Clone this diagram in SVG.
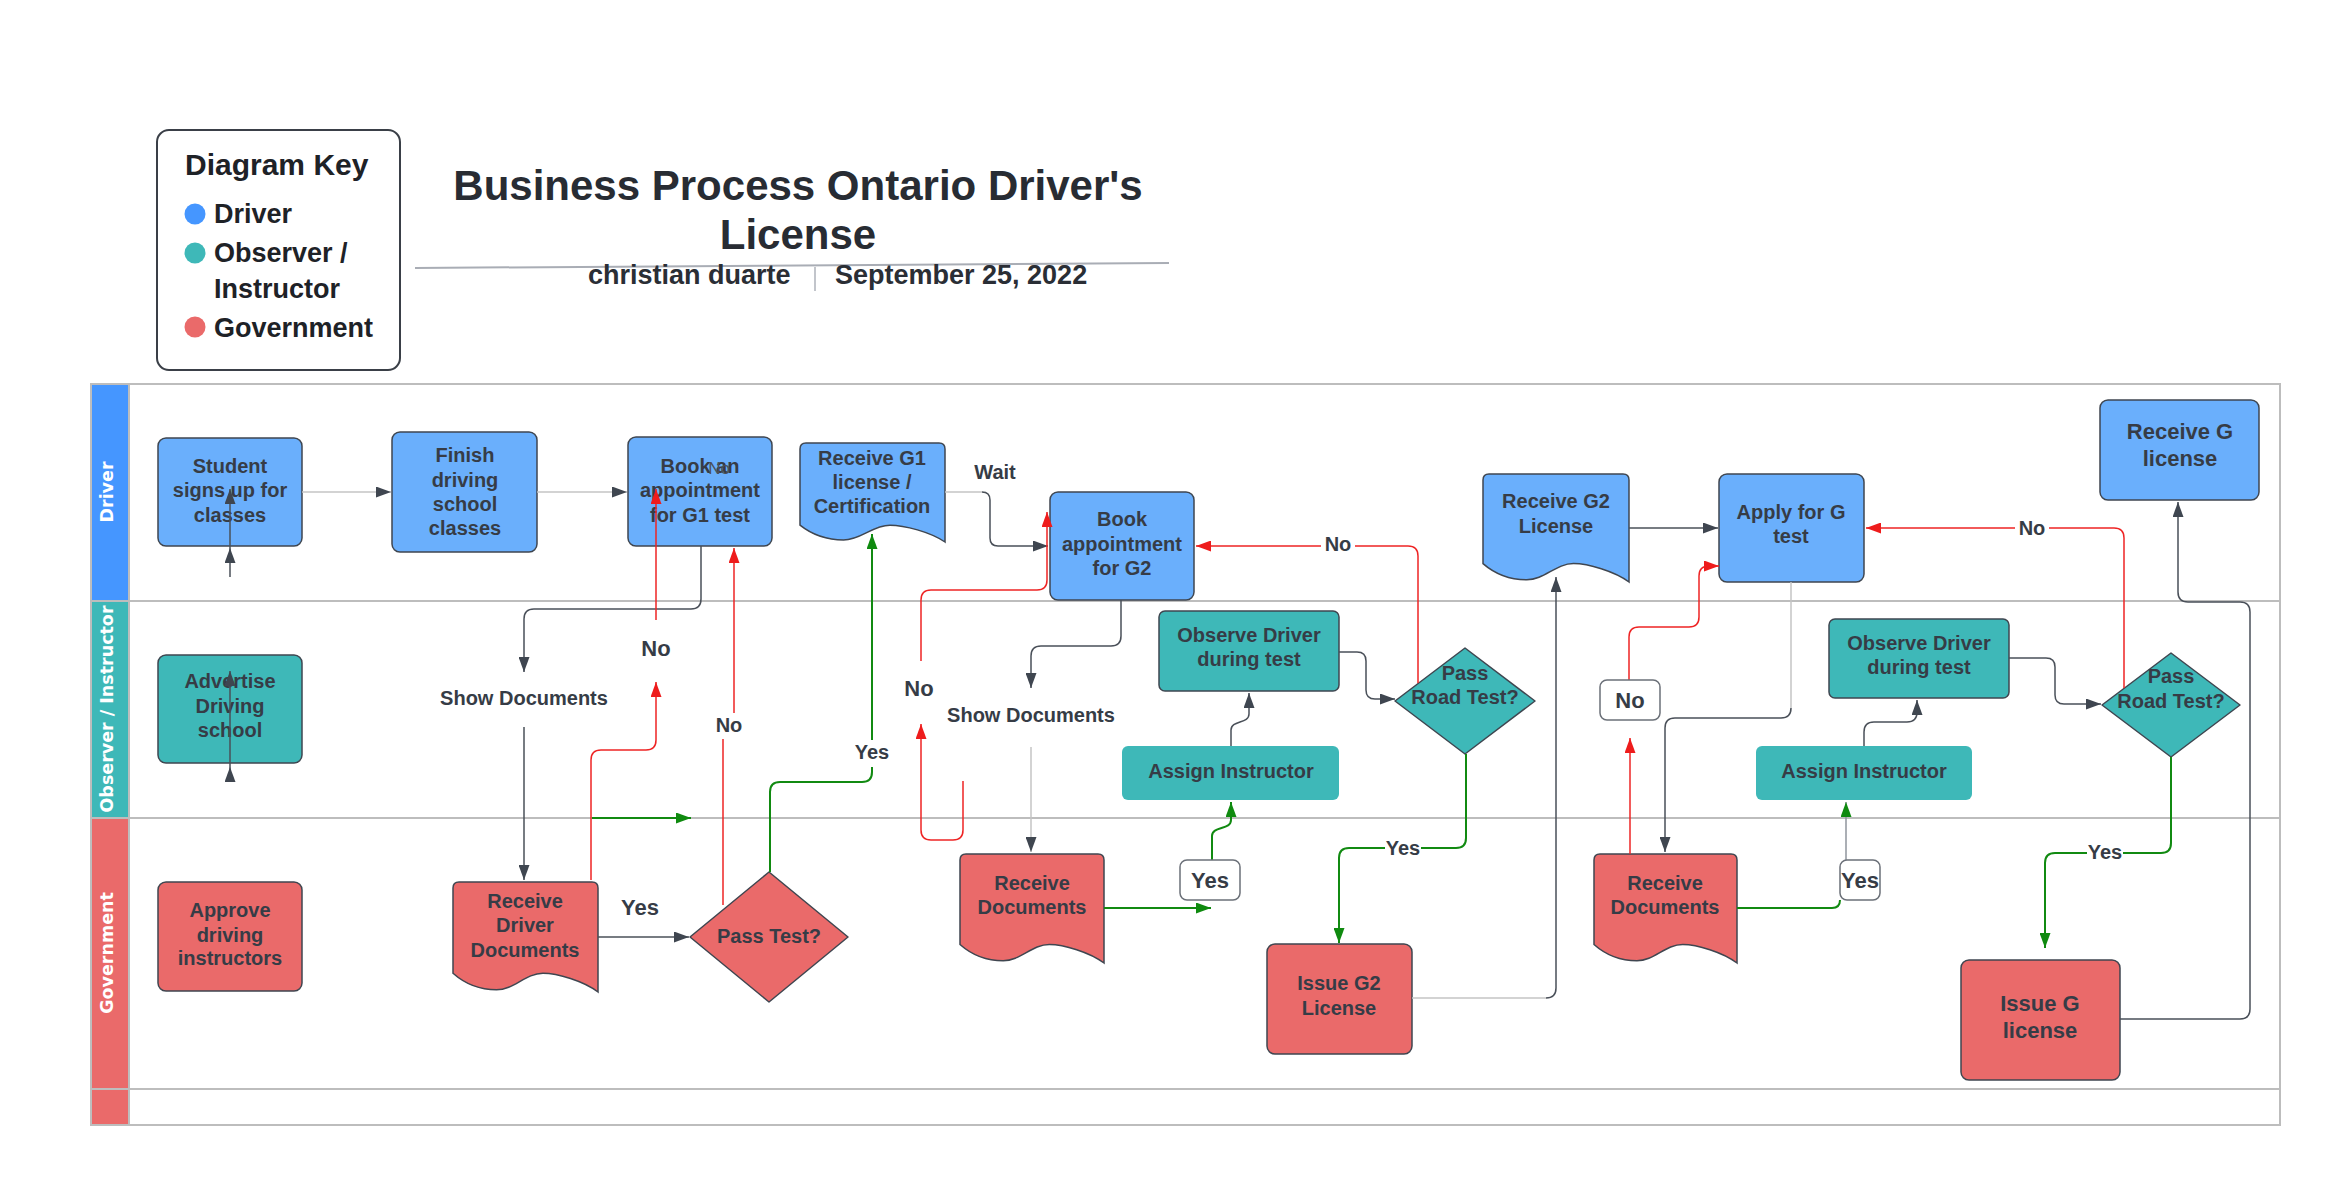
<svg xmlns="http://www.w3.org/2000/svg" width="2340" height="1180" viewBox="0 0 2340 1180">
<style>
.lane{fill:none;stroke:#bdbdbd;stroke-width:2}
.nb{fill:#6aaffc;stroke:#3f4650;stroke-width:1.5}
.nt{fill:#3eb8b8;stroke:#3f4650;stroke-width:1.5}
.nt0{fill:#3eb8b8}
.nr{fill:#ea6a6a;stroke:#3f4650;stroke-width:1.5}
.t{font-family:"Liberation Sans",Arial,sans-serif;font-weight:bold;font-size:20px;fill:#363c46;text-anchor:middle}
.t22{font-size:22px}
.lg{font-family:"Liberation Sans",Arial,sans-serif;font-weight:bold;font-size:27px;fill:#1e2227}
.ll{font-family:"DejaVu Sans",Verdana,sans-serif;font-weight:bold;font-size:17.5px;fill:#ffffff;text-anchor:middle}
.c{fill:none;stroke:#4a5059;stroke-width:1.5}
.cl{fill:none;stroke:#c4c4c4;stroke-width:1.5}
.cr{fill:none;stroke:#ee2424;stroke-width:1.5}
.cg{fill:none;stroke:#118a11;stroke-width:2}
.lb{fill:#ffffff;stroke:#6b7078;stroke-width:1.5}
</style>
<defs>
<marker id="ad" viewBox="0 0 15 11" refX="15" refY="5.5" markerWidth="15" markerHeight="11" markerUnits="userSpaceOnUse" orient="auto"><path d="M0,0 L15,5.5 L0,11 Z" fill="#3f4650"/></marker>
<marker id="ar" viewBox="0 0 15 11" refX="15" refY="5.5" markerWidth="15" markerHeight="11" markerUnits="userSpaceOnUse" orient="auto"><path d="M0,0 L15,5.5 L0,11 Z" fill="#ee1c1c"/></marker>
<marker id="ag" viewBox="0 0 15 11" refX="15" refY="5.5" markerWidth="15" markerHeight="11" markerUnits="userSpaceOnUse" orient="auto"><path d="M0,0 L15,5.5 L0,11 Z" fill="#0f8a0f"/></marker>
</defs>
<rect width="2340" height="1180" fill="#ffffff"/>

<g id="legend">
<rect x="157" y="130" width="243" height="240" rx="12" fill="#ffffff" stroke="#3a3f47" stroke-width="2"/>
<text x="185" y="175" class="lg" style="font-size:30px">Diagram Key</text>
<circle cx="195" cy="214" r="10.5" fill="#4596ff"/>
<circle cx="195" cy="253" r="10.5" fill="#3eb8b8"/>
<circle cx="195" cy="327" r="10.5" fill="#ea6a6a"/>
<text x="214" y="223" class="lg">Driver</text>
<text x="214" y="262" class="lg">Observer /</text>
<text x="214" y="298" class="lg">Instructor</text>
<text x="214" y="337" class="lg">Government</text>
</g>

<g id="title">
<text x="798" y="200" class="t" style="font-size:42px;fill:#282c33">Business Process Ontario Driver's</text>
<text x="798" y="249" class="t" style="font-size:42px;fill:#282c33">License</text>
<path d="M415 268 L1169 263" stroke="#a9adb5" stroke-width="2" fill="none"/>
<text x="588" y="284" class="t" style="font-size:27px;text-anchor:start;fill:#2a2e35">christian duarte</text>
<path d="M815 267 V291" stroke="#c2c5cb" stroke-width="2"/>
<text x="835" y="284" class="t" style="font-size:27px;text-anchor:start;fill:#2a2e35">September 25, 2022</text>
</g>

<g id="swimlanes">
<rect x="91" y="384" width="2189" height="741" fill="#ffffff"/>
<rect x="91" y="384" width="38" height="217" fill="#4596ff"/>
<rect x="91" y="601" width="38" height="217" fill="#3eb8b8"/>
<rect x="91" y="818" width="38" height="271" fill="#ea6a6a"/>
<rect x="91" y="1089" width="38" height="36" fill="#ea6a6a"/>
<rect x="91" y="384" width="2189" height="741" class="lane"/>
<path d="M91 601 H2280 M91 818 H2280 M91 1089 H2280 M129 384 V1125" class="lane"/>
<text transform="translate(113,492) rotate(-90)" class="ll">Driver</text>
<text transform="translate(113,709) rotate(-90)" class="ll">Observer / Instructor</text>
<text transform="translate(113,953) rotate(-90)" class="ll">Government</text>
</g>

<g id="student-signs-up">
<rect x="158" y="438" width="144" height="108" rx="8" class="nb"/>
<text class="t" x="230" y="473">Student</text>
<text class="t" x="230" y="497">signs up for</text>
<text class="t" x="230" y="522">classes</text>
</g>
<g id="finish-classes">
<rect x="392" y="432" width="145" height="120" rx="8" class="nb"/>
<text class="t" x="465" y="462">Finish</text>
<text class="t" x="465" y="487">driving</text>
<text class="t" x="465" y="511">school</text>
<text class="t" x="465" y="535">classes</text>
</g>
<g id="book-g1">
<rect x="628" y="437" width="144" height="109" rx="8" class="nb"/>
<text class="t" x="700" y="473">Book an</text>
<text class="t" x="700" y="497">appointment</text>
<text class="t" x="700" y="522">for G1 test</text>
</g>
<g id="receive-g1">
<path d="M800 449 Q800 443 806 443 H939 Q945 443 945 449 V542 C930.5 532.1 904.4 525.2 889.9 525.2 C872.5 525.2 860.9 540 843.5 540 C821.75 540 808.7 532.1 800 525.2 Z" class="nb"/>
<text class="t" x="872" y="465">Receive G1</text>
<text class="t" x="872" y="489">license /</text>
<text class="t" x="872" y="513">Certification</text>
</g>
<g id="book-g2">
<rect x="1050" y="492" width="144" height="108" rx="8" class="nb"/>
<text class="t" x="1122" y="526">Book</text>
<text class="t" x="1122" y="551">appointment</text>
<text class="t" x="1122" y="575">for G2</text>
</g>
<g id="receive-g2">
<path d="M1483 480 Q1483 474 1489 474 H1623 Q1629 474 1629 480 V582 C1614.4 571.2 1588.1 563.6 1573.5 563.6 C1556 563.6 1544.3 579.8 1526.8 579.8 C1504.9 579.8 1491.8 571.2 1483 563.6 Z" class="nb"/>
<text class="t" x="1556" y="508">Receive G2</text>
<text class="t" x="1556" y="533">License</text>
</g>
<g id="apply-g">
<rect x="1719" y="474" width="145" height="108" rx="8" class="nb"/>
<text class="t" x="1791" y="519">Apply for G</text>
<text class="t" x="1791" y="543">test</text>
</g>
<g id="receive-g">
<rect x="2100" y="400" width="159" height="100" rx="8" class="nb"/>
<text class="t t22" x="2180" y="439">Receive G</text>
<text class="t t22" x="2180" y="466">license</text>
</g>

<g id="advertise">
<rect x="158" y="655" width="144" height="108" rx="8" class="nt"/>
<text class="t" x="230" y="688">Advertise</text>
<text class="t" x="230" y="713">Driving</text>
<text class="t" x="230" y="737">school</text>
</g>
<g id="observe-1">
<rect x="1159" y="611" width="180" height="80" rx="6" class="nt"/>
<text class="t" x="1249" y="642">Observe Driver</text>
<text class="t" x="1249" y="666">during test</text>
</g>
<g id="assign-1">
<rect x="1122" y="746" width="217" height="54" rx="6" class="nt0"/>
<text class="t" x="1231" y="778">Assign Instructor</text>
</g>
<g id="pass-road-1">
<path d="M1395 701 L1465 648 L1535 701 L1465 754 Z" class="nt" stroke-linejoin="round"/>
<text class="t" x="1465" y="680">Pass</text>
<text class="t" x="1465" y="704">Road Test?</text>
</g>
<g id="observe-2">
<rect x="1829" y="619" width="180" height="79" rx="6" class="nt"/>
<text class="t" x="1919" y="650">Observe Driver</text>
<text class="t" x="1919" y="674">during test</text>
</g>
<g id="assign-2">
<rect x="1756" y="746" width="216" height="54" rx="6" class="nt0"/>
<text class="t" x="1864" y="778">Assign Instructor</text>
</g>
<g id="pass-road-2">
<path d="M2102 705 L2171 653 L2240 705 L2171 757 Z" class="nt" stroke-linejoin="round"/>
<text class="t" x="2171" y="683">Pass</text>
<text class="t" x="2171" y="708">Road Test?</text>
</g>

<g id="approve">
<rect x="158" y="882" width="144" height="109" rx="8" class="nr"/>
<text class="t" x="230" y="917">Approve</text>
<text class="t" x="230" y="942">driving</text>
<text class="t" x="230" y="965">instructors</text>
</g>
<g id="receive-driver-docs">
<path d="M453 888 Q453 882 459 882 H592 Q598 882 598 888 V992 C583.5 981 557.4 973.3 542.9 973.3 C525.5 973.3 513.9 989.8 496.5 989.8 C474.75 989.8 461.7 981 453 973.3 Z" class="nr"/>
<text class="t" x="525" y="908">Receive</text>
<text class="t" x="525" y="932">Driver</text>
<text class="t" x="525" y="957">Documents</text>
</g>
<g id="pass-test">
<path d="M690 937 L769 872 L848 937 L769 1002 Z" class="nr" stroke-linejoin="round"/>
<text class="t" x="769" y="943">Pass Test?</text>
</g>
<g id="receive-docs-1">
<path d="M960 860 Q960 854 966 854 H1098 Q1104 854 1104 860 V963 C1089.6 952.1 1063.7 944.5 1049.3 944.5 C1032 944.5 1020.5 960.8 1003.2 960.8 C981.6 960.8 968.6 952.1 960 944.5 Z" class="nr"/>
<text class="t" x="1032" y="890">Receive</text>
<text class="t" x="1032" y="914">Documents</text>
</g>
<g id="issue-g2">
<rect x="1267" y="944" width="145" height="110" rx="8" class="nr"/>
<text class="t" x="1339" y="990">Issue G2</text>
<text class="t" x="1339" y="1015">License</text>
</g>
<g id="receive-docs-2">
<path d="M1594 860 Q1594 854 1600 854 H1731 Q1737 854 1737 860 V963 C1722.7 952.1 1697 944.5 1682.7 944.5 C1665.5 944.5 1654.1 960.8 1636.9 960.8 C1615.5 960.8 1602.6 952.1 1594 944.5 Z" class="nr"/>
<text class="t" x="1665" y="890">Receive</text>
<text class="t" x="1665" y="914">Documents</text>
</g>
<g id="issue-g">
<rect x="1961" y="960" width="159" height="120" rx="8" class="nr"/>
<text class="t t22" x="2040" y="1011">Issue G</text>
<text class="t t22" x="2040" y="1038">license</text>
</g>

<g id="connectors">
<path d="M302 492 H391" class="cl" marker-end="url(#ad)"/>
<path d="M537 492 H627" class="cl" marker-end="url(#ad)"/>
<path d="M230 577 V548" class="c" marker-end="url(#ad)"/>
<path d="M230 548 V489" class="c" marker-end="url(#ad)"/>
<path d="M230 781 V767" class="c" marker-end="url(#ad)"/>
<path d="M230 767 V671" class="c" marker-end="url(#ad)"/>
<path d="M701 546 V599 Q701 609 691 609 H534 Q524 609 524 619 V672" class="c" marker-end="url(#ad)"/>
<path d="M524 727 V880" class="c" marker-end="url(#ad)"/>
<path d="M598 937 H689" class="c" marker-end="url(#ad)"/>
<path d="M591 880 V760 Q591 750 601 750 H646 Q656 750 656 740 V682" class="cr" marker-end="url(#ar)"/>
<path d="M656 620 V489" class="cr" marker-end="url(#ar)"/>
<path d="M592 818 H691" class="cg" marker-end="url(#ag)"/>
<path d="M723 905 V739" class="cr"/>
<path d="M734 713 V548" class="cr" marker-end="url(#ar)"/>
<path d="M770 872 V792 Q770 782 780 782 H862 Q872 782 872 772 V767" class="cg"/>
<path d="M872 740 V534" class="cg" marker-end="url(#ag)"/>
<path d="M945 492 H982" class="cl"/>
<path d="M982 492 Q990 492 990 500 V538 Q990 546 998 546 H1048" class="c" marker-end="url(#ad)"/>
<path d="M921 661 V600 Q921 590 931 590 H1037 Q1047 590 1047 580 V512" class="cr" marker-end="url(#ar)"/>
<path d="M963 781 V830 Q963 840 953 840 H931 Q921 840 921 830 V724" class="cr" marker-end="url(#ar)"/>
<path d="M1121 600 V636 Q1121 646 1111 646 H1041 Q1031 646 1031 656 V688" class="c" marker-end="url(#ad)"/>
<path d="M1031 747 V852" class="cl" marker-end="url(#ad)"/>
<path d="M1104 908 H1211" class="cg" marker-end="url(#ag)"/>
<path d="M1212 860 V836 C1212 826 1231 830 1231 820 V802" class="cg" marker-end="url(#ag)"/>
<path d="M1231 746 V730 C1231 720 1249 724 1249 714 V693" class="c" marker-end="url(#ad)"/>
<path d="M1339 652 H1357 Q1366 652 1366 661 V690 Q1366 699 1375 699 H1395" class="c" marker-end="url(#ad)"/>
<path d="M1418 683 V556 Q1418 546 1408 546 H1196" class="cr" marker-end="url(#ar)"/>
<path d="M1466 754 V838 Q1466 848 1456 848 H1349 Q1339 848 1339 858 V943" class="cg" marker-end="url(#ag)"/>
<path d="M1412 998 H1546" class="cl"/>
<path d="M1546 998 Q1556 998 1556 988 V577" class="c" marker-end="url(#ad)"/>
<path d="M1629 528 H1718" class="c" marker-end="url(#ad)"/>
<path d="M1791 582 V708" class="cl"/>
<path d="M1791 708 Q1791 718 1781 718 H1675 Q1665 718 1665 728 V852" class="c" marker-end="url(#ad)"/>
<path d="M1629 680 V637 Q1629 627 1639 627 H1689 Q1699 627 1699 617 V576 Q1699 566 1709 566 H1719" class="cr" marker-end="url(#ar)"/>
<path d="M1630 854 V738" class="cr" marker-end="url(#ar)"/>
<path d="M1737 908 H1832 Q1840 908 1840 900" class="cg"/>
<path d="M1846 860 V802" class="cl" style="stroke:#8f959c" marker-end="url(#ag)"/>
<path d="M1864 746 V732 Q1864 722 1874 722 H1907 Q1917 722 1917 712 V700" class="c" marker-end="url(#ad)"/>
<path d="M2009 658 H2046 Q2055 658 2055 667 V695 Q2055 704 2064 704 H2101" class="c" marker-end="url(#ad)"/>
<path d="M2124 688 V538 Q2124 528 2114 528 H1866" class="cr" marker-end="url(#ar)"/>
<path d="M2171 757 V843 Q2171 853 2161 853 H2055 Q2045 853 2045 863 V948" class="cg" marker-end="url(#ag)"/>
<path d="M2120 1019 H2240 Q2250 1019 2250 1009 V612 Q2250 602 2240 602 H2188 Q2178 602 2178 592 V502" class="c" marker-end="url(#ad)"/>
</g>

<g id="labels">
<text class="t" x="524" y="705">Show Documents</text>
<text class="t" x="1031" y="722">Show Documents</text>
<text class="t" x="719" y="474" style="font-size:17px;font-weight:normal;fill:#4a5059">No</text>
<text class="t t22" x="656" y="656">No</text>
<text class="t" x="729" y="732">No</text>
<text class="t" x="995" y="479">Wait</text>
<text class="t" x="872" y="759">Yes</text>
<text class="t t22" x="919" y="696">No</text>
<text class="t t22" x="640" y="915">Yes</text>
<rect x="1321" y="534" width="34" height="22" fill="#ffffff"/>
<text class="t" x="1338" y="551">No</text>
<rect x="1385" y="838" width="36" height="20" fill="#ffffff"/>
<text class="t" x="1403" y="855">Yes</text>
<rect x="2015" y="518" width="34" height="22" fill="#ffffff"/>
<text class="t" x="2032" y="535">No</text>
<rect x="2087" y="842" width="36" height="20" fill="#ffffff"/>
<text class="t" x="2105" y="859">Yes</text>
<rect x="1180" y="860" width="60" height="40" rx="7" class="lb"/>
<text class="t t22" x="1210" y="888">Yes</text>
<rect x="1840" y="860" width="40" height="40" rx="7" class="lb"/>
<text class="t t22" x="1860" y="888">Yes</text>
<rect x="1600" y="680" width="60" height="40" rx="7" class="lb"/>
<text class="t t22" x="1630" y="708">No</text>
</g>
</svg>
